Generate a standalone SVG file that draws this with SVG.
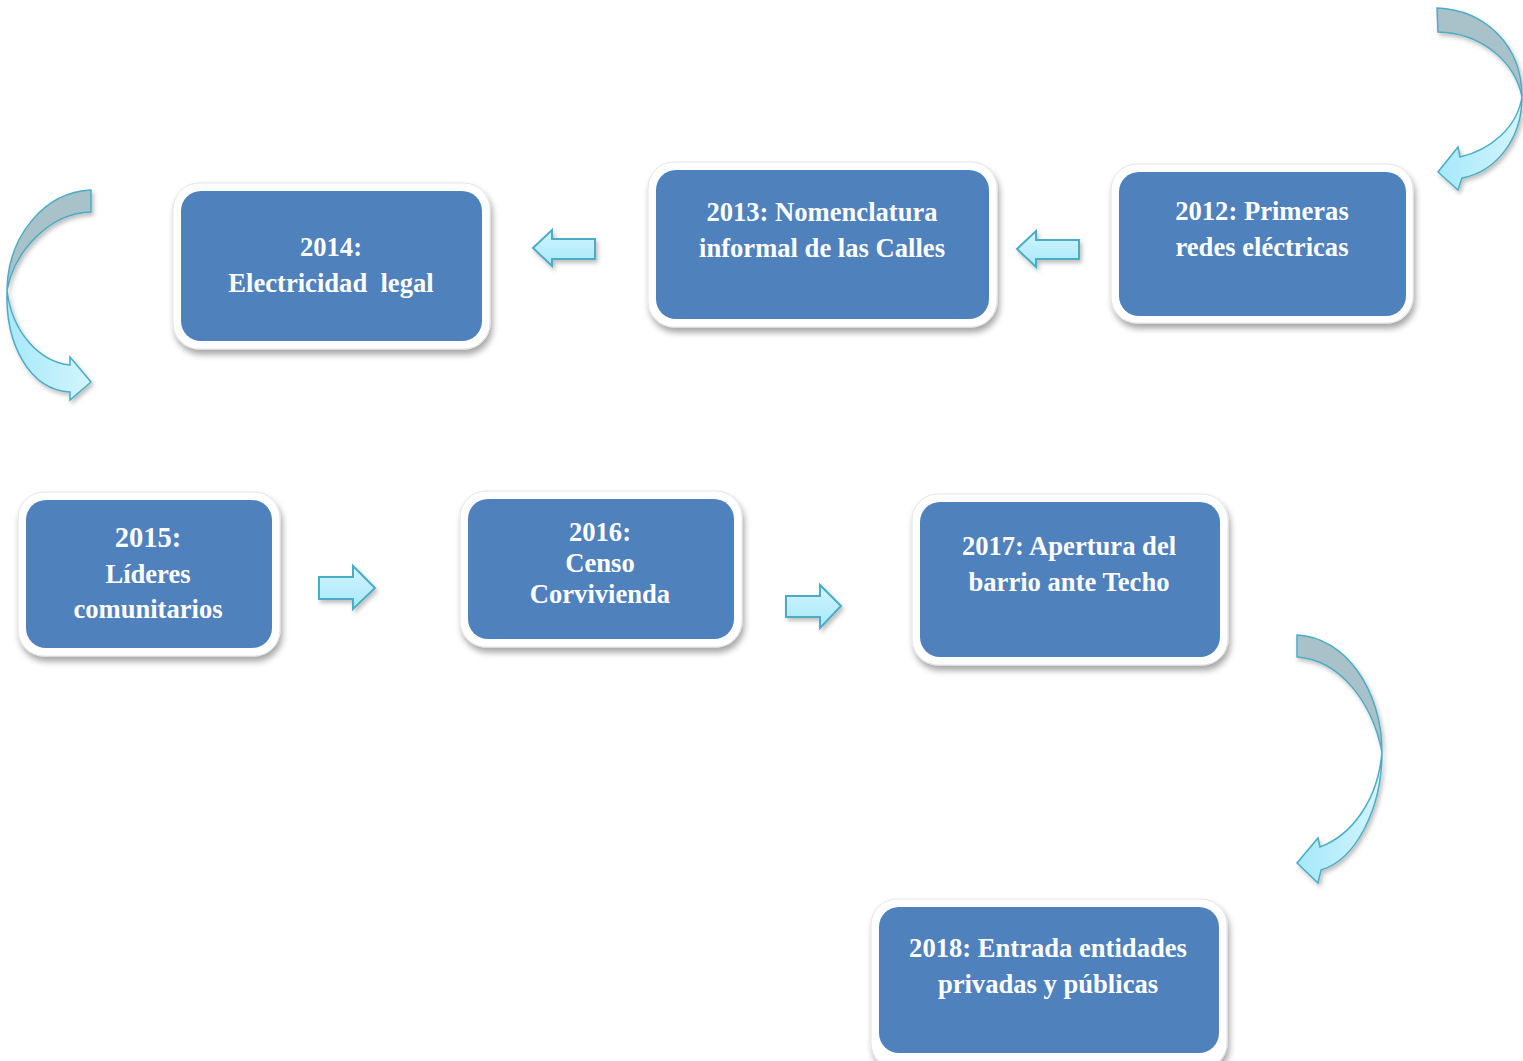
<svg xmlns="http://www.w3.org/2000/svg" width="1523" height="1061" viewBox="0 0 1523 1061">
<defs>
<filter id="sh" x="-10%" y="-10%" width="125%" height="130%">
<feDropShadow dx="2" dy="5" stdDeviation="3" flood-color="#000" flood-opacity="0.35"/>
</filter>
<filter id="ash" x="-20%" y="-20%" width="150%" height="150%">
<feDropShadow dx="2" dy="3" stdDeviation="2" flood-color="#000" flood-opacity="0.25"/>
</filter>
<linearGradient id="cy" x1="0" y1="0" x2="0" y2="1">
<stop offset="0" stop-color="#d3f5fd"/>
<stop offset="1" stop-color="#a6e8fb"/>
</linearGradient>
<linearGradient id="cyv" x1="0" y1="0" x2="1" y2="0">
<stop offset="0" stop-color="#a6e8fb"/>
<stop offset="1" stop-color="#d3f5fd"/>
</linearGradient>
</defs>
<style>
.outer{fill:#ffffff;stroke:#e4e4e4;stroke-width:1;filter:url(#sh)}
.inner{fill:#4f81bd}
.t{font-family:"Liberation Serif","Times New Roman",serif;font-weight:bold;font-size:26.6px;fill:#ffffff;text-anchor:middle;white-space:pre}
.ba{fill:url(#cy);stroke:#4bacc6;stroke-width:2;stroke-linejoin:miter;filter:url(#ash)}
.back{fill:#a9c2ca;stroke:#4bacc6;stroke-width:1.5;filter:url(#ash)}
.front{fill:url(#cyv);stroke:#4bacc6;stroke-width:1.5;filter:url(#ash)}
</style>
<rect width="1523" height="1061" fill="#ffffff"/>

<g id="n2012">
<rect class="outer" x="1111" y="164" width="302" height="159" rx="26"/>
<rect class="inner" x="1119" y="172" width="287" height="144" rx="20"/>
<text class="t" x="1262" y="220">2012: Primeras</text>
<text class="t" x="1262" y="256">redes eléctricas</text>
</g>
<g id="n2013">
<rect class="outer" x="648" y="162" width="349" height="165" rx="26"/>
<rect class="inner" x="656" y="170" width="333" height="149" rx="20"/>
<text class="t" x="822" y="221">2013: Nomenclatura</text>
<text class="t" x="822" y="257">informal de las Calles</text>
</g>
<g id="n2014">
<rect class="outer" x="173" y="183" width="317" height="166" rx="26"/>
<rect class="inner" x="181" y="191" width="301" height="150" rx="20"/>
<text class="t" x="331" y="256">2014:</text>
<text class="t" x="331" y="292">Electricidad  legal</text>
</g>
<g id="n2015">
<rect class="outer" x="18" y="492" width="262" height="164" rx="26"/>
<rect class="inner" x="26" y="500" width="246" height="148" rx="20"/>
<text class="t" x="148" y="547" style="font-size:28.5px">2015:</text>
<text class="t" x="148" y="583">Líderes</text>
<text class="t" x="148" y="618">comunitarios</text>
</g>
<g id="n2016">
<rect class="outer" x="460" y="491" width="282" height="156" rx="26"/>
<rect class="inner" x="468" y="499" width="266" height="140" rx="20"/>
<text class="t" x="600" y="541">2016:</text>
<text class="t" x="600" y="572">Censo</text>
<text class="t" x="600" y="603">Corvivienda</text>
</g>
<g id="n2017">
<rect class="outer" x="912" y="494" width="316" height="171" rx="26"/>
<rect class="inner" x="920" y="502" width="300" height="155" rx="20"/>
<text class="t" x="1069" y="555">2017: Apertura del</text>
<text class="t" x="1069" y="591">barrio ante Techo</text>
</g>
<g id="n2018">
<rect class="outer" x="871" y="899" width="356" height="170" rx="26"/>
<rect class="inner" x="879" y="907" width="340" height="146" rx="20"/>
<text class="t" x="1048" y="957">2018: Entrada entidades</text>
<text class="t" x="1048" y="993">privadas y públicas</text>
</g>

<g id="connectors">
<!-- curved arrow top right -->
<path class="back" d="M1437,8 C1485,10 1522,45 1522,97 C1515,62 1482,33 1438,32 Z"/>
<path class="front" d="M1522,97 C1522,140 1495,172 1462,178 L1458,190 L1438,172 L1458,147 L1460,157 C1490,150 1517,128 1522,97 Z"/>
<!-- curved arrow left -->
<path class="back" d="M91,190 C45,192 8,235 7,290 C15,250 50,213 91,212 Z"/>
<path class="front" d="M7,290 C12,333 40,362 70,365 L70,357 L91,382 L70,400 L70,392 C30,390 5,345 7,290 Z"/>
<!-- curved arrow lower right -->
<path class="back" d="M1297,635 C1345,637 1382,690 1382,752 C1372,702 1340,660 1297,657 Z"/>
<path class="front" d="M1382,752 C1382,810 1355,860 1321,870 L1318,883 L1297,863 L1318,838 L1320,847 C1352,835 1378,800 1382,752 Z"/>
<!-- block arrows -->
<path class="ba" d="M533,248 L552,230 L552,239 L595,239 L595,259 L552,259 L552,266 Z"/>
<path class="ba" d="M1017,249 L1036,231 L1036,240 L1079,240 L1079,259 L1036,259 L1036,267 Z"/>
<path class="ba" d="M375,588 L353,566 L353,577 L319,577 L319,599 L353,599 L353,609 Z"/>
<path class="ba" d="M841,606 L820,585 L820,596 L786,596 L786,617 L820,617 L820,628 Z"/>
</g>
</svg>
